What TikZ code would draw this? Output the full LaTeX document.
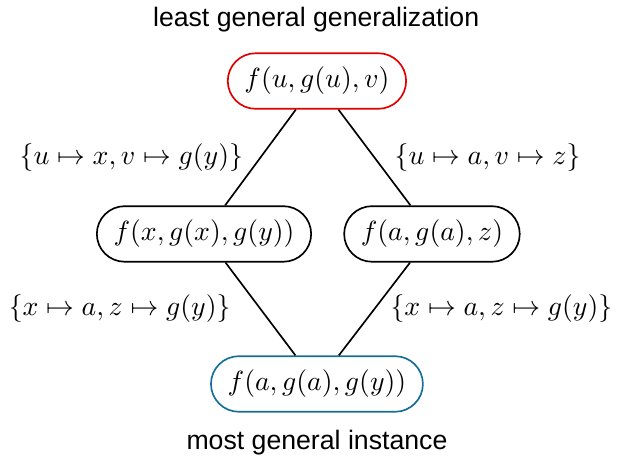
\documentclass[tikz,border=0pt]{standalone}
\usepackage{fontspec}
\setsansfont{Liberation Sans}

\definecolor{lggred}{RGB}{225,0,0}
\definecolor{mgiblue}{RGB}{20,110,150}

\begin{document}
\begin{tikzpicture}[
    scale=1.0,
    every node/.style={font=\fontsize{10.3}{12}\selectfont},
    term/.style={
        draw,
        semithick,
        rectangle,
        rounded corners=10pt,
        minimum height=20pt,
        inner xsep=6pt
    },
    subst/.style={inner sep=2pt},
    caption/.style={font=\sffamily\fontsize{9.6}{11}\selectfont}
]

% Rahmen
\useasboundingbox (0,0) rectangle (7.882,-5.782);

% ============================================================
% Terme
% ============================================================

\node[term, draw=lggred] (lgg) at (4.01,-1.025)
    {$f(u,g(u),v)$};

\node[term] (left) at (2.581,-2.960)
    {$f(x,g(x),g(y))$};

\node[term] (right) at (5.465,-2.960)
    {$f(a,g(a),z)$};

\node[term, draw=mgiblue] (mgi) at (4.01,-4.858)
    {$f(a,g(a),g(y))$};

% ============================================================
% Beschriftung oben / unten
% ============================================================

\node[caption] (toptext) at (4.00,-0.253)
    {least general generalization};

\node[caption] (bottomtext) at (4.01,-5.605)
    {most general instance};

% ============================================================
% Substitutionen
% ============================================================

\draw[semithick] (lgg) --
    node[subst, midway, left=4pt] (s1)
    {$\{u\mapsto x, v\mapsto g(y)\}$}
    (left);

\draw[semithick] (lgg) --
    node[subst, midway, right=5pt] (s2)
    {$\{u\mapsto a, v\mapsto z\}$}
    (right);

\draw[semithick] (left) --
    node[subst, midway, left=8.5pt] (s3)
    {$\{x\mapsto a, z\mapsto g(y)\}$}
    (mgi);

\draw[semithick] (right) --
    node[subst, midway, right=3.5pt] (s4)
    {$\{x\mapsto a, z\mapsto g(y)\}$}
    (mgi);

\end{tikzpicture}
\end{document}
